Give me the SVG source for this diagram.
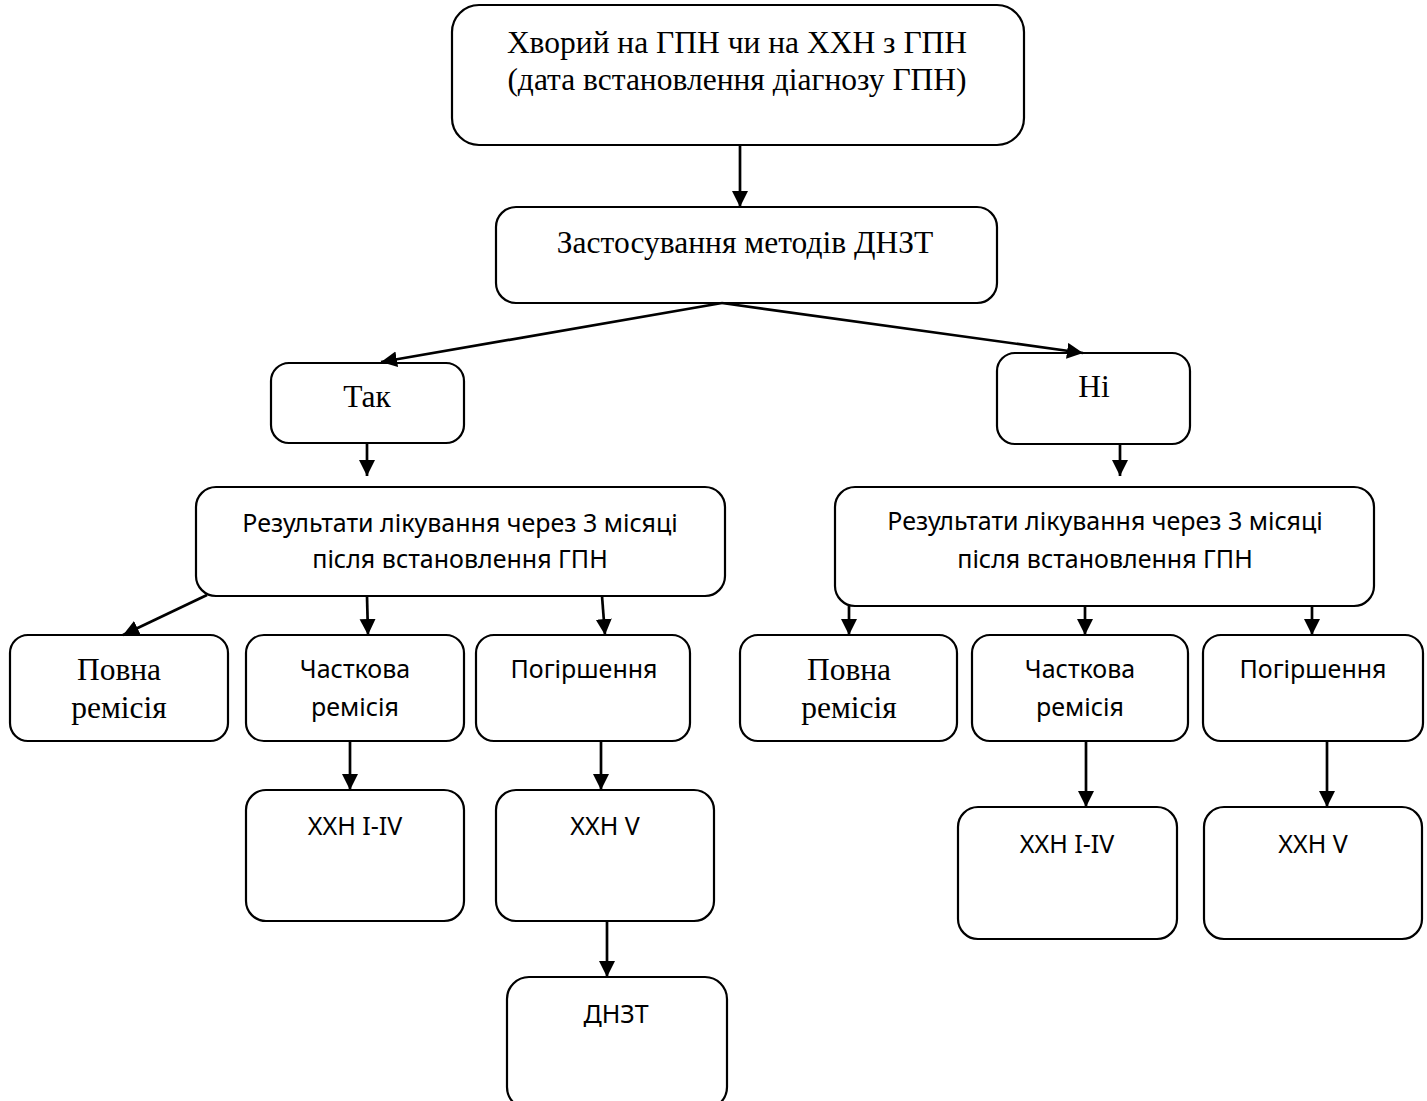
<svg xmlns="http://www.w3.org/2000/svg" width="1427" height="1101" viewBox="0 0 1427 1101">
<defs>
<style>
.box{fill:#fff;stroke:#000;stroke-width:2.2}
.tr{font-family:"Liberation Serif","Times New Roman",serif;font-size:31.5px;fill:#000;text-anchor:middle}
.sa{font-family:"Noto Sans","Open Sans",sans-serif;font-size:25px;fill:#000;text-anchor:middle}
.con line{stroke:#000;stroke-width:2.7;marker-end:url(#ah)}
</style>
<marker id="ah" markerWidth="17" markerHeight="17" refX="16" refY="8" orient="auto" markerUnits="userSpaceOnUse"><path d="M0,0 L16,8 L0,16 z" fill="#000"/></marker>
</defs>
<rect width="1427" height="1101" fill="#fff"/>
<g id="n-top"><rect class="box" x="452" y="5" width="572" height="140" rx="27"/><text class="tr" x="737" y="53">Хворий на ГПН чи на ХХН з ГПН</text><text class="tr" x="737" y="90">(дата встановлення діагнозу ГПН)</text></g>
<g id="n-method"><rect class="box" x="496" y="207" width="501" height="96" rx="20"/><text class="tr" x="745" y="253">Застосування методів ДНЗТ</text></g>
<g id="n-yes"><rect class="box" x="271" y="363" width="193" height="80" rx="18"/><text class="tr" x="367" y="407">Так</text></g>
<g id="n-no"><rect class="box" x="997" y="353" width="193" height="91" rx="18"/><text class="tr" x="1094" y="397">Ні</text></g>
<g id="n-res-l"><rect class="box" x="196" y="487" width="529" height="109" rx="20"/><text class="sa" x="460" y="532">Результати лікування через 3 місяці</text><text class="sa" x="460" y="568">після встановлення ГПН</text></g>
<g id="n-res-r"><rect class="box" x="835" y="487" width="539" height="119" rx="20"/><text class="sa" x="1105" y="530">Результати лікування через 3 місяці</text><text class="sa" x="1105" y="568">після встановлення ГПН</text></g>
<g id="n-full-l"><rect class="box" x="10" y="635" width="218" height="106" rx="18"/><text class="tr" x="119" y="680">Повна</text><text class="tr" x="119" y="718">ремісія</text></g>
<g id="n-part-l"><rect class="box" x="246" y="635" width="218" height="106" rx="18"/><text class="sa" x="355" y="678">Часткова</text><text class="sa" x="355" y="716">ремісія</text></g>
<g id="n-worse-l"><rect class="box" x="476" y="635" width="214" height="106" rx="18"/><text class="sa" x="584" y="678">Погіршення</text></g>
<g id="n-full-r"><rect class="box" x="740" y="635" width="217" height="106" rx="18"/><text class="tr" x="849" y="680">Повна</text><text class="tr" x="849" y="718">ремісія</text></g>
<g id="n-part-r"><rect class="box" x="972" y="635" width="216" height="106" rx="18"/><text class="sa" x="1080" y="678">Часткова</text><text class="sa" x="1080" y="716">ремісія</text></g>
<g id="n-worse-r"><rect class="box" x="1203" y="635" width="220" height="106" rx="18"/><text class="sa" x="1313" y="678">Погіршення</text></g>
<g id="n-ckd14-l"><rect class="box" x="246" y="790" width="218" height="131" rx="20"/><text class="sa" x="355" y="835">ХХН I-IV</text></g>
<g id="n-ckd5-l"><rect class="box" x="496" y="790" width="218" height="131" rx="20"/><text class="sa" x="605" y="835">ХХН V</text></g>
<g id="n-dnzt"><rect class="box" x="507" y="977" width="220" height="132" rx="22"/><text class="sa" x="616" y="1023">ДНЗТ</text></g>
<g id="n-ckd14-r"><rect class="box" x="958" y="807" width="219" height="132" rx="20"/><text class="sa" x="1067" y="853">ХХН I-IV</text></g>
<g id="n-ckd5-r"><rect class="box" x="1204" y="807" width="218" height="132" rx="20"/><text class="sa" x="1313" y="853">ХХН V</text></g>
<g id="connectors" class="con">
<line x1="740" y1="145" x2="740" y2="207"/>
<line x1="722" y1="303" x2="381" y2="362"/>
<line x1="722" y1="303" x2="1083" y2="353"/>
<line x1="367" y1="443" x2="367" y2="476"/>
<line x1="1120" y1="444" x2="1120" y2="476"/>
<line x1="207" y1="595" x2="123" y2="635"/>
<line x1="367" y1="596" x2="368" y2="635"/>
<line x1="602" y1="596" x2="605" y2="635"/>
<line x1="849" y1="606" x2="849" y2="635"/>
<line x1="1085" y1="606" x2="1085" y2="635"/>
<line x1="1312" y1="606" x2="1312" y2="635"/>
<line x1="350" y1="741" x2="350" y2="790"/>
<line x1="601" y1="741" x2="601" y2="790"/>
<line x1="607" y1="921" x2="607" y2="977"/>
<line x1="1086" y1="741" x2="1086" y2="807"/>
<line x1="1327" y1="741" x2="1327" y2="807"/>
</g>
</svg>
